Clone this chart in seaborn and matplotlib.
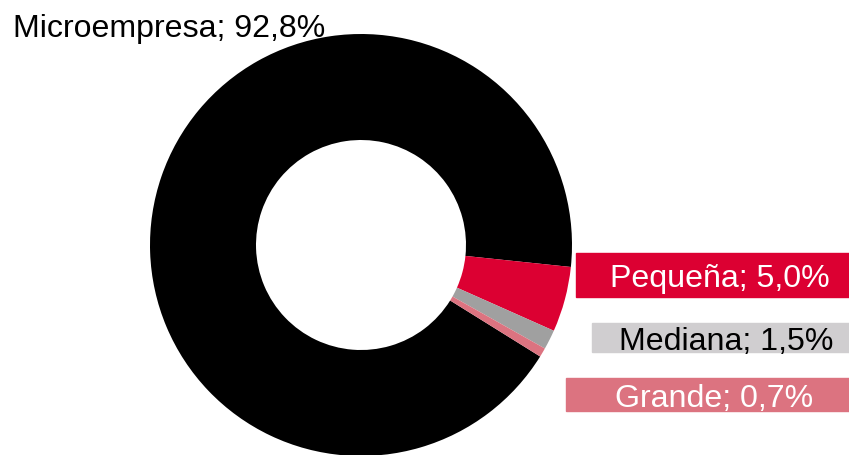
import matplotlib
matplotlib.use("Agg")
import matplotlib.pyplot as plt
import seaborn as sns
from matplotlib.patches import Rectangle

sns.set_theme(style="white")
plt.rcParams["font.family"] = ["Liberation Sans", "DejaVu Sans"]

labels = ["Microempresa", "Pequeña", "Mediana", "Grande"]
shares = [92.8, 5.0, 1.5, 0.7]
slice_colors = ["#000000", "#DC0032", "#A0A0A0", "#DC7380"]
box_colors = [None, "#DC0032", "#D0CED0", "#DC7380"]
text_colors = ["black", "white", "black", "white"]

W, H = 849, 455
fig = plt.figure(figsize=(W / 100, H / 100), dpi=100)
ax = fig.add_axes([0, 0, 1, 1])
ax.axis("off")

# donut, pixel coords (y flipped)
ax.pie(shares, colors=slice_colors, center=(361, H - 245), radius=211,
       startangle=-31.9, counterclock=False,
       wedgeprops=dict(width=106, linewidth=0))
ax.set_xlim(0, W)
ax.set_ylim(0, H)
ax.set_aspect("equal")

def fmt(v):
    return f"{v:.1f}".replace(".", ",") + "%"

# label layout: (text x, baseline y, box x0, box y0, box y1)
layout = [
    (13, 37, None, None, None),
    (610, 287, 576, 253, 297),
    (619, 350, 592, 323, 352),
    (615, 407, 566, 378, 411),
]

for lab, v, bc, tc, (tx, ty, bx, by0, by1) in zip(labels, shares, box_colors, text_colors, layout):
    if bc is not None:
        ax.add_patch(Rectangle((bx, H - by1), W - bx, by1 - by0, color=bc, zorder=2))
    ax.text(tx, H - ty, f"{lab}; {fmt(v)}", ha="left", va="baseline",
            fontsize=23.1, color=tc, zorder=3)

fig.savefig("out.png", dpi=100)
